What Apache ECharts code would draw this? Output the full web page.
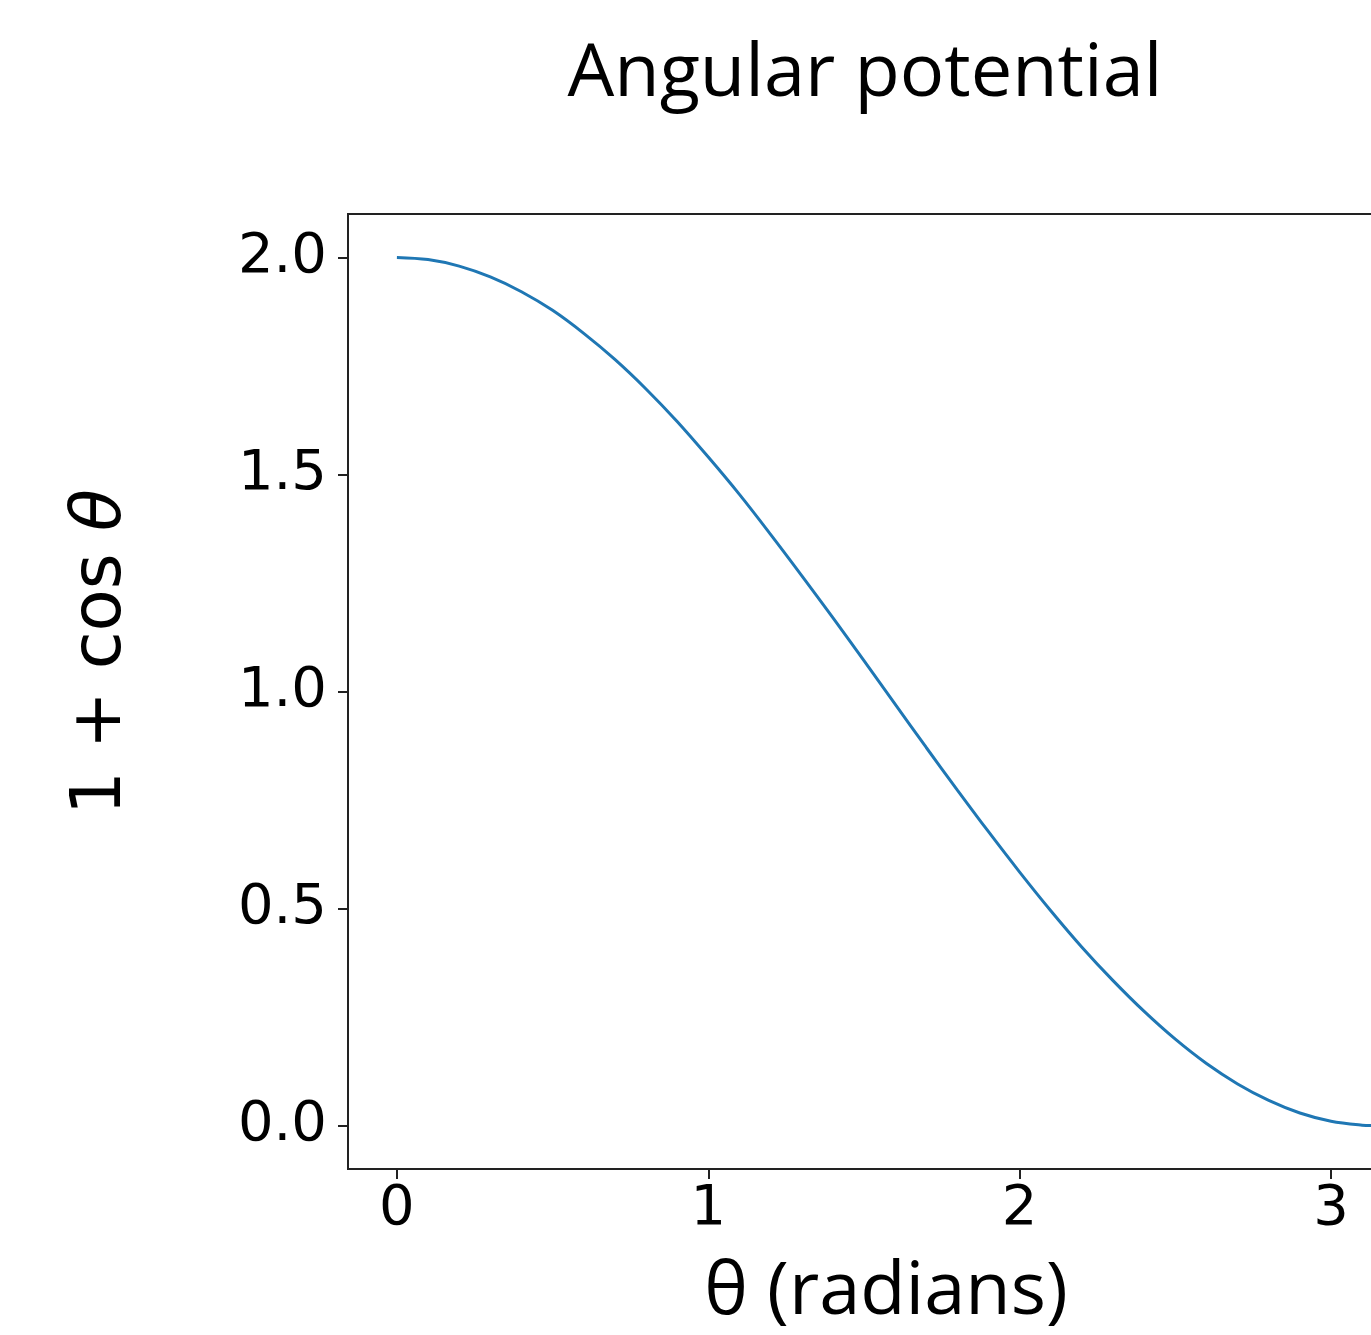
<!DOCTYPE html>
<html>
<head>
<meta charset="utf-8">
<script src="https://cdn.jsdelivr.net/npm/echarts@6/dist/echarts.min.js"></script>
<style>html,body{margin:0;padding:0;background:#fff;}#c{width:1371px;height:1335px;}</style>
</head>
<body>
<div id="c"></div>
<script>
// theta values (radians) and the plotted 1 + cos(theta)
const thetaValues = [0, 0.1, 0.2, 0.3, 0.4, 0.5, 0.6, 0.7, 0.8, 0.9, 1.0, 1.1, 1.2, 1.3, 1.4, 1.5, 1.6, 1.7, 1.8, 1.9, 2.0, 2.1, 2.2, 2.3, 2.4, 2.5, 2.6, 2.7, 2.8, 2.9, 3.0, 3.1, 3.1416];
const potentialValues = [2.000, 1.995, 1.980, 1.955, 1.921, 1.878, 1.825, 1.765, 1.697, 1.622, 1.540, 1.454, 1.362, 1.267, 1.170, 1.071, 0.971, 0.871, 0.773, 0.677, 0.584, 0.495, 0.411, 0.334, 0.263, 0.199, 0.143, 0.096, 0.058, 0.029, 0.010, 0.001, 0.000];
const xTicks = [0, 1, 2, 3];
const yTicks = [0, 0.5, 1.0, 1.5, 2.0];
const titleText = 'Angular potential';
const xLabelText = 'θ (radians)';

const chart = echarts.init(document.getElementById('c'), null, {renderer: 'canvas'});
const seriesData = thetaValues.map((t, i) => [t, potentialValues[i]]);
const tickFont = 'DejaVu Sans';
const labelFont = '"Open Sans"';

chart.setOption({
  animation: false,
  backgroundColor: '#ffffff',
  grid: {
    left: 348, top: 214, width: 1076, height: 955,
    outerBoundsMode: 'none', containLabel: false,
    show: true, borderColor: '#222', borderWidth: 2, backgroundColor: 'transparent'
  },
  xAxis: {
    type: 'value', min: -0.15708, max: 3.29867,
    axisLine: {show: true, onZero: false, lineStyle: {color: '#222', width: 2}},
    axisTick: {show: true, customValues: xTicks, length: 10, lineStyle: {color: '#222', width: 2}},
    axisLabel: {show: true, customValues: xTicks, fontFamily: tickFont, fontSize: 56, color: '#000', margin: 12},
    splitLine: {show: false}
  },
  yAxis: {
    type: 'value', min: -0.1, max: 2.1,
    axisLine: {show: true, onZero: false, lineStyle: {color: '#222', width: 2}},
    axisTick: {show: true, customValues: yTicks, length: 10, lineStyle: {color: '#222', width: 2}},
    axisLabel: {show: true, customValues: yTicks, fontFamily: tickFont, fontSize: 56, color: '#000', margin: 21,
      formatter: v => v.toFixed(1)},
    splitLine: {show: false}
  },
  series: [{
    type: 'line', data: seriesData, smooth: 0.35, showSymbol: false,
    lineStyle: {color: '#1f77b4', width: 3}, itemStyle: {color: '#1f77b4'}
  }],
  graphic: [
    {type: 'text', x: 865, y: 75, style: {text: titleText, font: '74px ' + labelFont, fill: '#000', align: 'center', verticalAlign: 'middle'}},
    {type: 'text', x: 886, y: 1293, style: {text: xLabelText, font: '74px ' + labelFont, fill: '#000', align: 'center', verticalAlign: 'middle'}},
    {type: 'text', x: 102, y: 652, rotation: Math.PI / 2,
      style: {text: '{a|1 + cos }{b|θ}', align: 'center', verticalAlign: 'middle',
        rich: {a: {fontFamily: 'DejaVu Sans', fontSize: 69, fill: '#000', color: '#000'},
               b: {fontFamily: 'DejaVu Sans', fontStyle: 'italic', fontSize: 69, fill: '#000', color: '#000'}}}}
  ]
});
</script>
</body>
</html>
